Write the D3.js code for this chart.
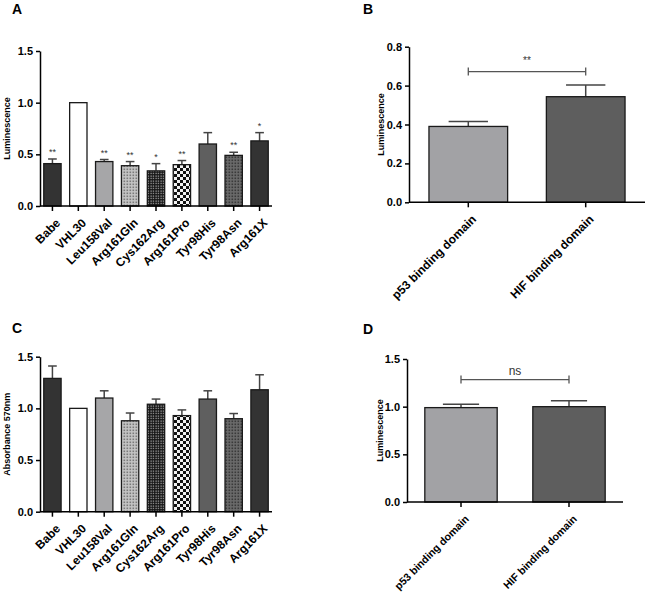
<!DOCTYPE html>
<html>
<head>
<meta charset="utf-8">
<title>VHL mutants</title>
<script src="https://cdnjs.cloudflare.com/ajax/libs/d3/7.8.5/d3.min.js"></script>
<style>
  body { margin: 0; background: #fff; }
  svg { display: block; font-family: Arial, "Liberation Sans", sans-serif; }
  .axis path, .axis line { stroke: #000; stroke-width: 1.5px; }
</style>
</head>
<body>
<svg id="fig" width="650" height="593"></svg>
<script>
// ---- data ----
var mutants = ["Babe", "VHL30", "Leu158Val", "Arg161Gln", "Cys162Arg", "Arg161Pro", "Tyr98His", "Tyr98Asn", "Arg161X"];
var fills = ["#333333", "#ffffff", "#a6a6a8", "url(#dotsLight)", "url(#checkFine)", "url(#checkCoarse)", "#5f5f5f", "url(#dotsDark)", "#333333"];

var lumA = [0.41, 1.00, 0.43, 0.39, 0.34, 0.40, 0.60, 0.49, 0.63];
var lumAErr = [0.045, 0, 0.02, 0.04, 0.07, 0.04, 0.11, 0.03, 0.08];
var lumAStars = ["**", "", "**", "**", "*", "**", "", "**", "*"];

var absC = [1.29, 1.00, 1.10, 0.88, 1.04, 0.93, 1.09, 0.90, 1.18];
var absCErr = [0.12, 0, 0.07, 0.075, 0.05, 0.055, 0.08, 0.05, 0.145];

var domains = ["p53 binding domain", "HIF binding domain"];
var domainFills = ["#a2a2a5", "#5e5e5e"];
var lumB = [0.39, 0.543];
var lumBErr = [0.025, 0.06];
var lumD = [0.99, 1.00];
var lumDErr = [0.035, 0.063];

var ticksA = [0, 0.5, 1.0, 1.5];
var ticksB = [0, 0.2, 0.4, 0.6, 0.8];

var svg = d3.select("#fig");

// fill patterns
var defs = svg.append("defs");
function dots(id, size, bg, fg, dot) {
  var p = defs.append("pattern").attr("id", id).attr("patternUnits", "userSpaceOnUse")
    .attr("width", size).attr("height", size);
  p.append("rect").attr("width", size).attr("height", size).attr("fill", bg);
  p.append("rect").attr("x", 0.5).attr("y", 0.5).attr("width", dot).attr("height", dot).attr("fill", fg);
}
function checker(id, s) {
  var p = defs.append("pattern").attr("id", id).attr("patternUnits", "userSpaceOnUse")
    .attr("width", 2 * s).attr("height", 2 * s);
  p.append("rect").attr("width", 2 * s).attr("height", 2 * s).attr("fill", "#f2f2f2");
  p.append("rect").attr("width", s).attr("height", s).attr("fill", "#111");
  p.append("rect").attr("x", s).attr("y", s).attr("width", s).attr("height", s).attr("fill", "#111");
}
dots("dotsLight", 3, "#c4c4c4", "#7a7a7a", 1.6);
dots("dotsDark", 3, "#6a6a6a", "#3a3a3a", 1.6);
dots("checkFine", 2.5, "#151515", "#d8d8d8", 1.1);
checker("checkCoarse", 3);

// one bar panel
function panel(o) {
  var g = svg.append("g");
  var x = d3.scaleBand().domain(o.cats).range([o.x0, o.x1])
    .paddingInner(0.33).paddingOuter(o.outer);
  var y = d3.scaleLinear().domain([0, o.ymax]).range([o.y0, o.y1]);
  var bw = x.bandwidth();

  // error bars (upper only)
  var eg = g.append("g").attr("stroke", "#444").attr("stroke-width", 1.5);
  o.cats.forEach(function (c, i) {
    if (!o.err[i]) return;
    var cx = x(c) + bw / 2;
    eg.append("line").attr("x1", cx).attr("x2", cx)
      .attr("y1", y(o.vals[i])).attr("y2", y(o.vals[i] + o.err[i]));
    eg.append("line").attr("x1", cx - bw / 4).attr("x2", cx + bw / 4)
      .attr("y1", y(o.vals[i] + o.err[i])).attr("y2", y(o.vals[i] + o.err[i]));
  });

  g.selectAll("rect.bar").data(o.cats).enter().append("rect")
    .attr("class", "bar")
    .attr("x", function (d) { return x(d); })
    .attr("y", function (d, i) { return y(o.vals[i]); })
    .attr("width", bw)
    .attr("height", function (d, i) { return y(0) - y(o.vals[i]); })
    .attr("fill", function (d, i) { return o.fills[i]; })
    .attr("stroke", "#1a1a1a").attr("stroke-width", 1.3);

  if (o.stars) {
    g.selectAll("text.star").data(o.cats).enter().append("text")
      .attr("x", function (d) { return x(d) + bw / 2; })
      .attr("y", function (d, i) { return y(o.vals[i] + o.err[i]) - 4; })
      .attr("text-anchor", "middle").attr("font-size", 9).attr("fill", "#333")
      .text(function (d, i) { return o.stars[i]; });
  }

  var xa = g.append("g").attr("class", "axis").attr("transform", "translate(0," + o.y0 + ")")
    .call(d3.axisBottom(x).tickSize(5).tickSizeOuter(0));
  xa.select(".domain").attr("d", "M" + o.x0 + ",0H" + o.x1);
  xa.selectAll("text")
    .style("font-size", o.xfont + "px").style("font-weight", "bold")
    .style("font-family", "Arial, 'Liberation Sans', sans-serif").attr("fill", "#000")
    .attr("text-anchor", "end")
    .attr("dx", 0).attr("dy", 0)
    .attr("transform", "translate(3,12) rotate(-45)");

  var ya = g.append("g").attr("class", "axis").attr("transform", "translate(" + o.x0 + ",0)")
    .call(d3.axisLeft(y).tickValues(o.ticks).tickFormat(d3.format(".1f")).tickSize(4).tickSizeOuter(0));
  ya.selectAll("text")
    .style("font-size", "11px").style("font-weight", "bold")
    .style("font-family", "Arial, 'Liberation Sans', sans-serif").attr("fill", "#000");

  g.append("text")
    .attr("transform", "translate(" + o.tx + "," + ((o.y0 + o.y1) / 2) + ") rotate(-90)")
    .attr("text-anchor", "middle").attr("dy", "0.35em")
    .attr("font-size", 9).attr("font-weight", "bold")
    .text(o.title);

  if (o.bracket) {
    var a = x(o.cats[0]) + bw / 2, b = x(o.cats[1]) + bw / 2, by = y(o.bracket.at);
    var bg = g.append("g").attr("stroke", "#555").attr("stroke-width", 1.3).attr("fill", "none");
    bg.append("path").attr("d", "M" + a + "," + (by - 4) + "V" + (by + 4) + "M" + a + "," + by +
      "H" + b + "M" + b + "," + (by - 4) + "V" + (by + 4));
    g.append("text").attr("x", (a + b) / 2).attr("y", by - o.bracket.lift)
      .attr("text-anchor", "middle").attr("font-size", o.bracket.size).attr("fill", "#333")
      .text(o.bracket.label);
  }

  svg.append("text").attr("x", o.lx).attr("y", o.ly)
    .attr("font-size", 14).attr("font-weight", "bold").text(o.letter);
}

panel({ letter: "A", lx: 12, ly: 14, cats: mutants, vals: lumA, err: lumAErr, fills: fills, stars: lumAStars,
  x0: 40, x1: 272, outer: 0.145, y0: 206, y1: 51, ymax: 1.5, ticks: ticksA, xfont: 12,
  title: "Luminescence", tx: 7 });

panel({ letter: "C", lx: 12, ly: 333, cats: mutants, vals: absC, err: absCErr, fills: fills,
  x0: 40, x1: 272, outer: 0.145, y0: 511.7, y1: 356.7, ymax: 1.5, ticks: ticksA, xfont: 12,
  title: "Absorbance 570nm", tx: 7 });

panel({ letter: "B", lx: 363, ly: 14, cats: domains, vals: lumB, err: lumBErr, fills: domainFills,
  x0: 409, x1: 645, outer: 0.17, y0: 202.3, y1: 46.7, ymax: 0.8, ticks: ticksB, xfont: 12,
  title: "Luminescence", tx: 381,
  bracket: { at: 0.672, label: "**", lift: 8, size: 10 } });

panel({ letter: "D", lx: 363, ly: 334, cats: domains, vals: lumD, err: lumDErr, fills: domainFills,
  x0: 407, x1: 623, outer: 0.165, y0: 502, y1: 359, ymax: 1.5, ticks: ticksA, xfont: 10.6,
  title: "Luminescence", tx: 380,
  bracket: { at: 1.284, label: "ns", lift: 5, size: 12 } });
</script>
</body>
</html>
